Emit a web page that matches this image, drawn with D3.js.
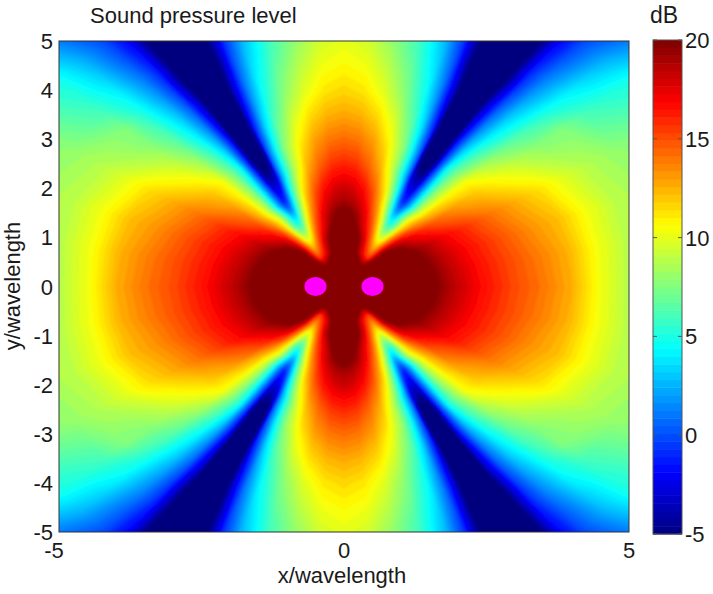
<!DOCTYPE html>
<html>
<head>
<meta charset="utf-8">
<script src="https://cdn.jsdelivr.net/npm/d3@7"></script>
<style>
  html, body { margin: 0; background: #fff; }
  text { font-family: "Liberation Sans", sans-serif; fill: #1a1a1a; }
</style>
</head>
<body>
<div id="chart"></div>
<script>
// dB for one quadrant, on rays around the centre:
// one row per radius, one column per angle (degrees from the +x axis)
const radii = [0, 0.5, 0.75, 1, 1.25, 1.5, 1.75, 2, 2.5, 3, 3.5, 4, 4.5, 5, 5.5, 6, 6.5, 7, 7.5];
const angles = [0, 10, 20, 30, 40, 45, 50, 53, 56, 58, 60, 62, 64, 67, 70, 75, 80, 85, 90];
const splRows = [
  [30,30,30,30,30,30,30,30,30,30,30,30,30,30,30,30,30,30,30],
  [34,30,28,26,23.5,22,21,20.7,20.7,21,21,21.5,22,22.5,23,24,25,25.5,26],
  [27,26.5,25.5,24,22,20,17.5,15.5,15,15.5,16,16.5,17,18,18.8,21,22.5,23.5,24],
  [24,23.5,22.8,22,21,19.5,16,13.5,12,12.3,13,14,15,16.5,18,20,21.5,22.3,22.5],
  [22,21.7,21.2,20.5,19.5,17.5,13.5,10.5,8.8,8.6,9.5,11,12.5,14.5,16,18,19.8,20.8,21],
  [20.7,20.5,20,19.5,17.5,15.5,11.5,8,5.5,5.2,6,8,10,12.5,14.5,17,18.8,20,20.5],
  [19.3,19.1,18.8,18.3,16,13.5,10.5,7.5,4,2,2.5,5,7.5,10.5,13,15.8,17.7,18.7,19],
  [18.3,18.1,17.8,17.2,14.7,12.2,8.5,5,1,-1,-0.5,2.5,5.5,9,11.8,14.8,16.7,17.8,18.2],
  [16.5,16.3,16.1,15.5,13,11,7.8,4.5,0,-3.5,-4,-2.5,2,6,9,12.5,14.5,15.7,16],
  [15.1,15,14.7,13.9,11.8,10.5,7,4.5,-1,-6,-7,-6,0.5,5,8,11,13,14,14.3],
  [14,13.8,13.3,12.5,10.2,8.5,5.5,2.8,-1.5,-7,-8,-7,-1,3.5,6.5,9.5,11.5,12.5,12.8],
  [12.6,12.5,12.2,11.2,8.8,7,4,1.5,-2.5,-8,-9,-8,-2.5,2,5,8,10,11.2,11.6],
  [10.3,10.4,10.4,9.7,7.7,6,3,0.5,-3.5,-9,-10,-9,-3.5,1,4,7,9,10.3,10.7],
  [8.8,9,9.1,8.7,7.5,5,2,-0.5,-5,-9,-10,-9,-5,0,3,6,8,9.5,10],
  [8.4,8.6,8.5,8,6,4.2,1.2,-1,-5.5,-9,-10,-9,-5.5,-1,2,5.5,7.5,9,9.5],
  [8,8.2,8.1,7.6,5.3,3.3,0.3,-1.8,-6,-9,-10,-9,-6,-1.5,1,4.5,7,8.5,9],
  [7.5,7.6,7.5,7,4.9,2.5,-0.2,-2.5,-6.5,-9,-10,-9,-6.5,-2,0.5,4,6.5,8,8.5],
  [7,7,7,6.5,4,1.3,-1,-3,-7,-9,-10,-9,-7,-2.5,0,3.5,6,7.5,8],
  [6.5,6.5,6.5,6,3.5,0.6,-1.5,-3.5,-7,-9,-10,-9,-7,-3,-0.5,3,5.5,7,7.5]
];
const sourceX = [-0.5, 0.5];
const sourceY = [0, 0];
const xTicks = [-5, 0, 5];
const yTicks = [-5, -4, -3, -2, -1, 0, 1, 2, 3, 4, 5];
const colorTicks = [-5, 0, 5, 10, 15, 20];
const colorDomain = [-5, 20];
const jetColors = ["#00007f", "#0000ff", "#00ffff", "#ffff00", "#ff0000", "#7f0000"];
const jetStops = [-5, -1.875, 4.375, 10.625, 16.875, 20];
const nColors = 64;

const width = 713, height = 594;
const plot = { left: 59, right: 629, top: 41, bottom: 532 };
const bar = { left: 653, right: 682, top: 40, bottom: 534 };

const x = d3.scaleLinear().domain([-5, 5]).range([plot.left, plot.right]);
const y = d3.scaleLinear().domain([-5, 5]).range([plot.bottom, plot.top]);
const barY = d3.scaleLinear().domain(colorDomain).range([bar.bottom, bar.top]);
const jet = d3.scaleLinear().domain(jetStops).range(jetColors).clamp(true);

// the other three quadrants are mirrors of the first
function allRound(row) {
  const back = row.slice().reverse().slice(1);
  return row.concat(back, row.slice(1), back);
}
const fullAngles = angles
  .concat(angles.slice().reverse().slice(1).map(a => 180 - a))
  .concat(angles.slice(1).map(a => 180 + a))
  .concat(angles.slice().reverse().slice(1).map(a => 360 - a));
const field = splRows.flatMap(allRound);
const nAngle = fullAngles.length;
const nRadius = radii.length;

const angleAt = d3.scaleLinear().domain(d3.range(nAngle)).range(fullAngles);
const radiusAt = d3.scaleLinear().domain(d3.range(nRadius)).range(radii);

const bandWidth = (colorDomain[1] - colorDomain[0]) / nColors;
const thresholds = d3.range(nColors).map(i => colorDomain[0] + i * bandWidth);

const svg = d3.select("#chart").append("svg")
    .attr("width", width)
    .attr("height", height)
    .style("display", "block");

const defs = svg.append("defs");
defs.append("clipPath").attr("id", "plotClip")
  .append("rect")
    .attr("x", plot.left)
    .attr("y", plot.top)
    .attr("width", plot.right - plot.left)
    .attr("height", plot.bottom - plot.top);
defs.append("filter").attr("id", "soft")
    .attr("x", "-5%").attr("y", "-5%").attr("width", "110%").attr("height", "110%")
  .append("feGaussianBlur").attr("stdDeviation", 1.2);

// contours come back in grid coords (cell centres at i + 0.5), turn them into polar positions
const toPlot = d3.geoTransform({
  point: function(cx, cy) {
    const a = angleAt(cx - 0.5) * Math.PI / 180;
    const r = Math.max(0, radiusAt(cy - 0.5));
    this.stream.point(x(r * Math.cos(a)), y(r * Math.sin(a)));
  }
});
const path = d3.geoPath(toPlot);
const contours = d3.contours().size([nAngle, nRadius]).thresholds(thresholds)(field);

const image = svg.append("g").attr("clip-path", "url(#plotClip)")
  .append("g").attr("filter", "url(#soft)");

image.append("rect")
    .attr("x", plot.left - 20)
    .attr("y", plot.top - 20)
    .attr("width", plot.right - plot.left + 40)
    .attr("height", plot.bottom - plot.top + 40)
    .attr("fill", jetColors[0]);

image.selectAll("path")
  .data(contours)
  .enter().append("path")
    .attr("d", path)
    .attr("fill", d => jet(d.value + bandWidth / 2));

// the two sources
svg.selectAll("ellipse")
  .data(sourceX)
  .enter().append("ellipse")
    .attr("cx", d => x(d))
    .attr("cy", (d, i) => y(sourceY[i]))
    .attr("rx", 11)
    .attr("ry", 9.5)
    .attr("fill", "#ff00ff");

// plot frame
svg.append("rect")
    .attr("x", plot.left)
    .attr("y", plot.top)
    .attr("width", plot.right - plot.left)
    .attr("height", plot.bottom - plot.top)
    .attr("fill", "none")
    .attr("stroke", "#333");

svg.selectAll(".xlabel")
  .data(xTicks)
  .enter().append("text")
    .attr("class", "xlabel")
    .attr("x", d => x(d) - (d < 0 ? 5 : 0))
    .attr("y", 558)
    .attr("text-anchor", "middle")
    .style("font-size", "22px")
    .text(d => d);

svg.selectAll(".ylabel")
  .data(yTicks)
  .enter().append("text")
    .attr("class", "ylabel")
    .attr("x", 53)
    .attr("y", d => y(d) + 8)
    .attr("text-anchor", "end")
    .style("font-size", "22px")
    .text(d => d);

// colorbar
svg.selectAll(".swatch")
  .data(thresholds)
  .enter().append("rect")
    .attr("class", "swatch")
    .attr("x", bar.left)
    .attr("y", d => barY(d + bandWidth))
    .attr("width", bar.right - bar.left)
    .attr("height", d => barY(d) - barY(d + bandWidth) + 0.5)
    .attr("fill", d => jet(d + bandWidth / 2));

svg.append("rect")
    .attr("x", bar.left)
    .attr("y", bar.top)
    .attr("width", bar.right - bar.left)
    .attr("height", bar.bottom - bar.top)
    .attr("fill", "none")
    .attr("stroke", "#555");

const barTicks = svg.selectAll(".bartick").data(colorTicks).enter().append("g").attr("class", "bartick");
barTicks.append("line")
    .attr("x1", bar.left).attr("x2", bar.left + 4)
    .attr("y1", d => barY(d)).attr("y2", d => barY(d))
    .attr("stroke", "#555");
barTicks.append("line")
    .attr("x1", bar.right - 4).attr("x2", bar.right)
    .attr("y1", d => barY(d)).attr("y2", d => barY(d))
    .attr("stroke", "#555");
barTicks.append("text")
    .attr("x", 685)
    .attr("y", d => barY(d) + 8)
    .style("font-size", "22px")
    .text(d => d);

svg.append("text")
    .attr("x", 90).attr("y", 23)
    .style("font-size", "22px")
    .text("Sound pressure level");

svg.append("text")
    .attr("x", 650).attr("y", 23)
    .style("font-size", "23px")
    .text("dB");

svg.append("text")
    .attr("x", 342).attr("y", 583)
    .attr("text-anchor", "middle")
    .style("font-size", "22px")
    .text("x/wavelength");

svg.append("text")
    .attr("transform", "translate(20,286) rotate(-90)")
    .attr("text-anchor", "middle")
    .style("font-size", "22px")
    .text("y/wavelength");
</script>
</body>
</html>
